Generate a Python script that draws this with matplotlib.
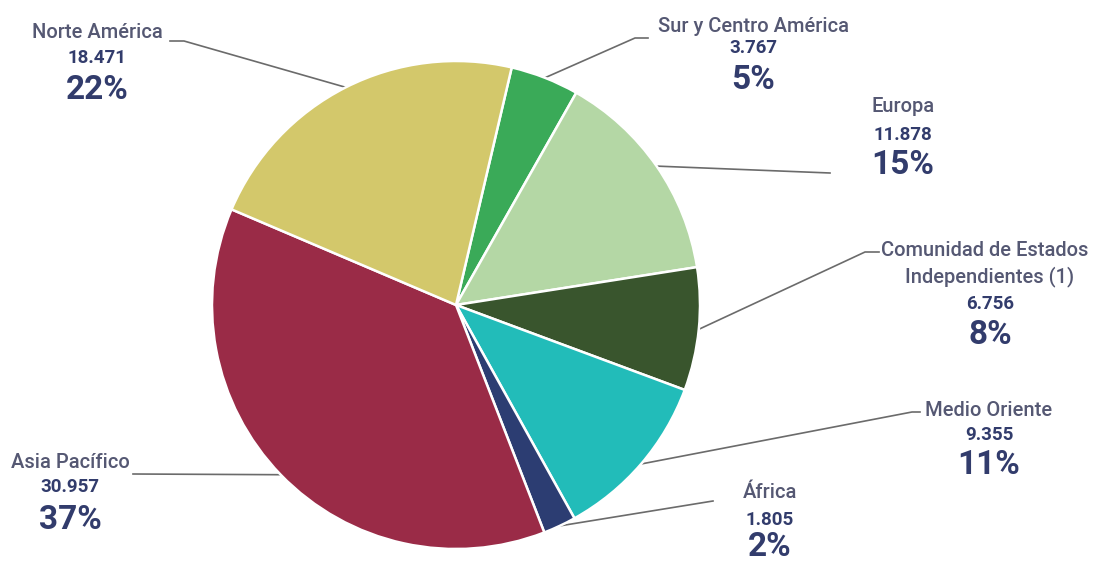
import numpy as np
import matplotlib
matplotlib.use("Agg")
import matplotlib.pyplot as plt

# data, in the clockwise order the slices appear (starting at the top)
regions = ["Sur y Centro América", "Europa", "Comunidad de Estados\nIndependientes (1)",
           "Medio Oriente", "África", "Asia Pacífico", "Norte América"]
values = [3767, 11878, 6756, 9355, 1805, 30957, 18471]
value_labels = ["3.767", "11.878", "6.756", "9.355", "1.805", "30.957", "18.471"]
pct_labels = ["5%", "15%", "8%", "11%", "2%", "37%", "22%"]
colors = ["#3aaa58", "#b4d7a5", "#39552d", "#22bcb9", "#2c3d72", "#9a2b47", "#d3c86b"]

W, H = 1104, 562

def py(y):
    # pixel row -> data y
    return H - y

# label layout (pixel coords): text centre x, name y, value y, pct y, elbow points
layout = [
    (753, 26, 48, 80, [(635, 38), (648, 38)]),
    (903, 107, 135, 165, [(830, 173)]),
    (990, 263, 304, 335, [(865, 252), (879, 252)]),
    (989, 410, 435, 465, [(912, 412), (920, 412)]),
    (770, 493, 520, 547, [(713, 501)]),
    (70, 462, 487, 520, [(133, 474)]),
    (97, 32, 58, 90, [(184, 41), (170, 41)]),
]

name_color = "#555873"
num_color = "#323c6c"

fig = plt.figure(figsize=(W / 100, H / 100), dpi=100)
ax = fig.add_axes([0, 0, 1, 1])

cx, cy, r = 456, py(305), 244
wedges, _ = ax.pie(values, colors=colors, startangle=76.8, counterclock=False,
                   center=(cx, cy), radius=r, frame=True,
                   wedgeprops=dict(edgecolor="white", linewidth=1.8))

ax.set_xlim(0, W)
ax.set_ylim(0, H)
ax.set_aspect("equal")
ax.axis("off")

for w, name, val, pct, lay in zip(wedges, regions, value_labels, pct_labels, layout):
    tx, ny, vy, pcy, elbow = lay
    ang = np.deg2rad((w.theta1 + w.theta2) / 2)
    ex, ey = cx + r * np.cos(ang), cy + r * np.sin(ang)
    xs = [ex] + [p[0] for p in elbow]
    ys = [ey] + [py(p[1]) for p in elbow]
    ax.plot(xs, ys, color="#6b6b6b", lw=1.2, zorder=0)

    if "\n" in name:
        a, b = name.split("\n")
        ax.text(tx - 5, py(ny - 13), a, ha="center", va="center", fontsize=14.5,
                color=name_color, family="Roboto", fontweight="medium")
        ax.text(tx, py(ny + 14), b, ha="center", va="center", fontsize=14.5,
                color=name_color, family="Roboto", fontweight="medium")
    else:
        ax.text(tx, py(ny), name, ha="center", va="center", fontsize=14.5,
                color=name_color, family="Roboto", fontweight="medium")
    ax.text(tx, py(vy), val, ha="center", va="center", fontsize=13.5,
            color=num_color, family="Roboto", fontweight="bold")
    ax.text(tx, py(pcy), pct, ha="center", va="center", fontsize=24,
            color=num_color, family="Roboto", fontweight="bold")

fig.savefig("out.png", dpi=100, facecolor="white")
